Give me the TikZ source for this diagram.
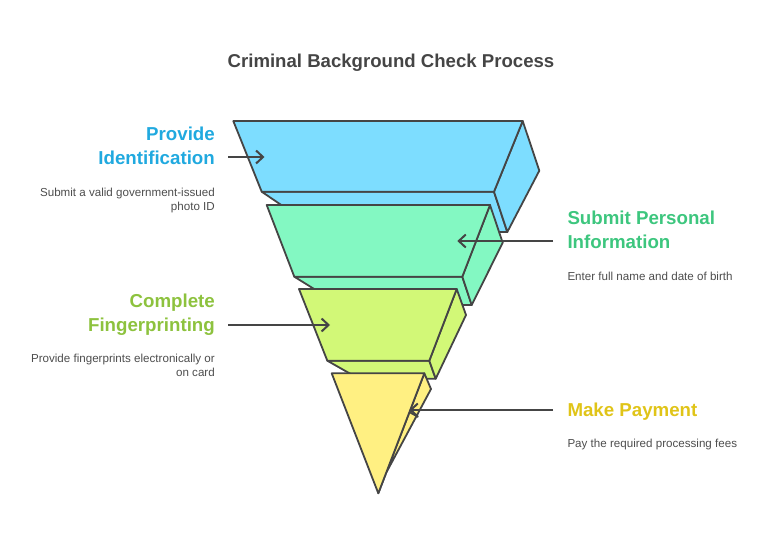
\documentclass[tikz,border=0pt]{standalone}
\usepackage{fontspec}
\setmainfont{Liberation Sans}
\usetikzlibrary{arrows.meta}

\definecolor{edgegray}{HTML}{454545}
\definecolor{descgray}{HTML}{4D4D4D}
\definecolor{layblue}{HTML}{7DDDFF}
\definecolor{laygreen}{HTML}{83F8C2}
\definecolor{laylime}{HTML}{D2F877}
\definecolor{layyellow}{HTML}{FFF082}
\definecolor{headblue}{HTML}{20A9DF}
\definecolor{headgreen}{HTML}{3DC67E}
\definecolor{headlime}{HTML}{8DC23E}
\definecolor{headgold}{HTML}{E0C418}

\begin{document}
\begin{tikzpicture}[x=1pt,y=-1pt]
    \tikzstyle{face}=[draw=edgegray,line width=1.8pt,line join=round]
    \tikzstyle{pointer}=[draw=edgegray,line width=2pt,-{Straight Barb[length=7pt,width=13pt]}]
    \tikzstyle{title}=[font=\bfseries\fontsize{18.6}{22}\selectfont,text=edgegray,inner sep=0pt]
    \tikzstyle{head}=[font=\bfseries\fontsize{18.7}{24.3}\selectfont,inner sep=0pt]
    \tikzstyle{desc}=[font=\fontsize{11.6}{14}\selectfont,text=descgray,inner sep=0pt]
    \useasboundingbox (0,0) rectangle (770,543);

    \node[title,anchor=base] (title) at (391,67.5) {Criminal Background Check Process};

    % blue layer
    \draw[face,fill=layblue] (261.7,191.7) -- (494,191.7) -- (507.3,232) -- (321,232) -- cycle;
    \draw[face,fill=layblue] (522.7,121) -- (539.3,170.7) -- (507.3,232) -- (494,191.7) -- cycle;
    \draw[face,fill=layblue] (233.3,121) -- (522.7,121) -- (494,191.7) -- (261.7,191.7) -- cycle;
    % green layer
    \draw[face,fill=laygreen] (294.3,276.7) -- (462.3,276.7) -- (471.7,305) -- (340,305) -- cycle;
    \draw[face,fill=laygreen] (490,205) -- (502.7,242.7) -- (471.7,305) -- (462.3,276.7) -- cycle;
    \draw[face,fill=laygreen] (266.7,205) -- (490,205) -- (462.3,276.7) -- (294.3,276.7) -- cycle;
    % lime layer
    \draw[face,fill=laylime] (327.3,360.7) -- (429.3,360.7) -- (435.7,378.7) -- (359,378.7) -- cycle;
    \draw[face,fill=laylime] (456.7,289) -- (466,315) -- (435.7,378.7) -- (429.3,360.7) -- cycle;
    \draw[face,fill=laylime] (299,289) -- (456.7,289) -- (429.3,360.7) -- (327.3,360.7) -- cycle;
    % yellow tip
    \draw[face,fill=layyellow] (424.3,373.3) -- (431,389) -- (385,475) -- (378.3,493.3) -- cycle;
    \draw[face,fill=layyellow] (331.7,373.3) -- (424.3,373.3) -- (378.3,493.3) -- cycle;
    \draw[face] (409.3,412) -- (418.3,417);

    % labels (base = last line)
    \node[head,text=headblue,align=right,anchor=base east] (ident) at (215,164.3) {Provide\\Identification};
    \node[desc,align=right,anchor=base east] (identdesc) at (215,210) {Submit a valid government-issued\\photo ID};
    \node[head,text=headgreen,align=left,anchor=base west] (personal) at (567.3,248.3) {Submit Personal\\Information};
    \node[desc,align=left,anchor=base west] (personaldesc) at (567.3,280.7) {Enter full name and date of birth};
    \node[head,text=headlime,align=right,anchor=base east] (finger) at (215,331.7) {Complete\\Fingerprinting};
    \node[desc,align=right,anchor=base east] (fingerdesc) at (215,376.7) {Provide fingerprints electronically or\\on card};
    \node[head,text=headgold,align=left,anchor=base west] (payment) at (567.3,416) {Make Payment};
    \node[desc,align=left,anchor=base west] (paymentdesc) at (567.3,447.3) {Pay the required processing fees};

    % pointers
    \coordinate (identtail) at (228,157);
    \coordinate (identtip) at (264.5,157);
    \coordinate (personaltail) at (553,241);
    \coordinate (personaltip) at (457.3,241);
    \coordinate (fingertail) at (228,325);
    \coordinate (fingertip) at (330,325);
    \coordinate (paymenttail) at (553,410);
    \coordinate (paymenttip) at (409.3,410);
    \draw[pointer] (identtail) -- (identtip);
    \draw[pointer] (personaltail) -- (personaltip);
    \draw[pointer] (fingertail) -- (fingertip);
    \draw[pointer] (paymenttail) -- (paymenttip);
\end{tikzpicture}
\end{document}
